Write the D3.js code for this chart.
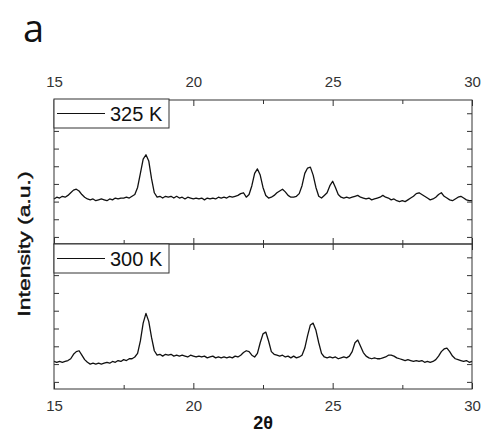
<!DOCTYPE html>
<html>
<head>
<meta charset="utf-8">
<script src="https://cdn.jsdelivr.net/npm/d3@7.9.0/dist/d3.min.js"></script>
<style>
  html, body { margin: 0; padding: 0; background: #fff; }
  svg { display: block; }
  .tick text { font-family: "Liberation Sans", Arial, sans-serif; font-size: 15px; fill: #333; }
  .tick line { stroke: #333; }
</style>
</head>
<body>
<svg id="chart" width="481" height="433"></svg>
<script>
// 2-theta sampling (degrees)
const twoTheta = [
  15.0,15.1,15.2,15.3,15.4,15.5,15.6,15.7,15.8,15.9,
  16.0,16.1,16.2,16.3,16.4,16.5,16.6,16.7,16.8,16.9,
  17.0,17.1,17.2,17.3,17.4,17.5,17.6,17.7,17.8,17.9,
  18.0,18.1,18.2,18.3,18.4,18.5,18.6,18.7,18.8,18.9,
  19.0,19.1,19.2,19.3,19.4,19.5,19.6,19.7,19.8,19.9,
  20.0,20.1,20.2,20.3,20.4,20.5,20.6,20.7,20.8,20.9,
  21.0,21.1,21.2,21.3,21.4,21.5,21.6,21.7,21.8,21.9,
  22.0,22.1,22.2,22.3,22.4,22.5,22.6,22.7,22.8,22.9,
  23.0,23.1,23.2,23.3,23.4,23.5,23.6,23.7,23.8,23.9,
  24.0,24.1,24.2,24.3,24.4,24.5,24.6,24.7,24.8,24.9,
  25.0,25.1,25.2,25.3,25.4,25.5,25.6,25.7,25.8,25.9,
  26.0,26.1,26.2,26.3,26.4,26.5,26.6,26.7,26.8,26.9,
  27.0,27.1,27.2,27.3,27.4,27.5,27.6,27.7,27.8,27.9,
  28.0,28.1,28.2,28.3,28.4,28.5,28.6,28.7,28.8,28.9,
  29.0,29.1,29.2,29.3,29.4,29.5,29.6,29.7,29.8,29.9,
  30.0
];

// intensity, 325 K (top panel, arbitrary units)
const int325 = [
  2.15,2.25,2.20,2.30,2.25,2.35,2.50,2.65,2.70,2.60,
  2.40,2.25,2.15,2.10,2.15,2.05,2.10,2.15,2.10,2.05,
  2.15,2.10,2.20,2.15,2.20,2.20,2.25,2.20,2.30,2.40,
  2.80,3.60,4.40,4.65,4.30,3.30,2.50,2.25,2.30,2.20,
  2.30,2.25,2.30,2.20,2.30,2.20,2.25,2.15,2.25,2.20,
  2.15,2.20,2.15,2.20,2.10,2.20,2.15,2.20,2.15,2.25,
  2.20,2.25,2.20,2.30,2.25,2.30,2.35,2.45,2.50,2.25,
  2.40,2.90,3.60,3.85,3.50,2.80,2.35,2.20,2.25,2.35,
  2.50,2.60,2.70,2.55,2.35,2.25,2.25,2.30,2.45,2.90,
  3.60,3.90,3.95,3.50,2.80,2.30,2.20,2.35,2.50,2.90,
  3.15,2.80,2.40,2.25,2.20,2.25,2.20,2.25,2.30,2.35,
  2.25,2.20,2.15,2.20,2.10,2.15,2.20,2.25,2.35,2.25,
  2.20,2.10,2.15,2.05,2.00,2.05,2.00,2.10,2.20,2.30,
  2.45,2.50,2.40,2.30,2.20,2.10,2.15,2.25,2.40,2.50,
  2.30,2.20,2.10,2.05,2.15,2.25,2.30,2.20,2.10,2.05,
  2.05
];

// intensity, 300 K (bottom panel, arbitrary units)
const int300 = [
  1.15,1.10,1.15,1.10,1.15,1.20,1.30,1.55,1.70,1.75,
  1.50,1.25,1.10,1.00,1.05,1.00,1.05,1.00,1.05,1.10,
  1.05,1.15,1.10,1.20,1.15,1.25,1.20,1.30,1.30,1.40,
  1.60,2.30,3.30,3.85,3.40,2.50,1.75,1.50,1.55,1.45,
  1.55,1.50,1.55,1.45,1.50,1.45,1.50,1.45,1.40,1.50,
  1.45,1.40,1.45,1.40,1.45,1.35,1.40,1.45,1.35,1.40,
  1.35,1.40,1.35,1.40,1.35,1.45,1.40,1.50,1.65,1.75,
  1.70,1.50,1.40,1.60,2.20,2.70,2.80,2.30,1.70,1.55,
  1.50,1.45,1.50,1.40,1.45,1.35,1.45,1.35,1.40,1.50,
  1.90,2.60,3.20,3.30,2.90,2.20,1.60,1.40,1.35,1.40,
  1.35,1.40,1.30,1.35,1.40,1.35,1.45,1.70,2.20,2.35,
  2.00,1.65,1.45,1.35,1.30,1.35,1.30,1.30,1.35,1.40,
  1.50,1.50,1.45,1.35,1.30,1.25,1.20,1.25,1.20,1.15,
  1.20,1.15,1.20,1.10,1.15,1.10,1.15,1.25,1.45,1.70,
  1.85,1.90,1.70,1.45,1.30,1.25,1.20,1.15,1.20,1.10,
  1.15
];

const xMajor = [15, 20, 25, 30];
const xMinor = [17.5, 22.5, 27.5];
const yTicks = [0, 1, 2, 3, 4, 5, 6, 7];

const panels = [
  { label: '325 K', values: int325, top: 100, bottom: 244 },
  { label: '300 K', values: int300, top: 244, bottom: 389 }
];

const left = 54, right = 472;
const svg = d3.select('#chart');

const x = d3.scaleLinear().domain([15, 30]).range([left, right]);

// panel letter
svg.append('text')
  .attr('x', 23).attr('y', 42)
  .attr('font-family', '"Open Sans", sans-serif')
  .attr('font-size', 38)
  .attr('fill', '#111')
  .text('a');

panels.forEach((p, i) => {
  const y = d3.scaleLinear().domain([-0.4, 7.75]).range([p.bottom, p.top]);
  const g = svg.append('g');

  // data line
  const line = d3.line()
    .x((d, k) => x(twoTheta[k]))
    .y(d => y(d));
  g.append('path')
    .datum(p.values)
    .attr('fill', 'none')
    .attr('stroke', '#111')
    .attr('stroke-width', 1.3)
    .attr('stroke-linejoin', 'round')
    .attr('d', line);

  // x ticks, top and bottom of each panel, inward
  g.append('g').attr('transform', `translate(0,${p.top})`)
    .call(d3.axisTop(x).tickValues(xMajor).tickSize(-6).tickPadding(13)
      .tickFormat(i === 0 ? d3.format('d') : ''));
  g.append('g').attr('transform', `translate(0,${p.top})`)
    .call(d3.axisTop(x).tickValues(xMinor).tickSize(-4).tickFormat(''));
  g.append('g').attr('transform', `translate(0,${p.bottom})`)
    .call(d3.axisBottom(x).tickValues(xMajor).tickSize(-6).tickPadding(11)
      .tickFormat(i === 1 ? d3.format('d') : ''));
  g.append('g').attr('transform', `translate(0,${p.bottom})`)
    .call(d3.axisBottom(x).tickValues(xMinor).tickSize(-4).tickFormat(''));

  // y ticks, inward, no labels
  g.append('g').attr('transform', `translate(${left},0)`)
    .call(d3.axisLeft(y).tickValues(yTicks).tickSize(-5).tickFormat(''));
  g.append('g').attr('transform', `translate(${right},0)`)
    .call(d3.axisRight(y).tickValues(yTicks).tickSize(-5).tickFormat(''));

  g.selectAll('.domain').remove();

  // frame
  g.append('rect')
    .attr('x', left).attr('y', p.top)
    .attr('width', right - left).attr('height', p.bottom - p.top)
    .attr('fill', 'none').attr('stroke', '#333').attr('stroke-width', 1);

  // legend
  const ly = p.top - (i === 0 ? 1 : 0);
  g.append('rect')
    .attr('x', left).attr('y', ly)
    .attr('width', 115).attr('height', 29)
    .attr('fill', '#fff').attr('stroke', '#333').attr('stroke-width', 1);
  g.append('line')
    .attr('x1', left + 3).attr('x2', left + 51)
    .attr('y1', ly + 14.5).attr('y2', ly + 14.5)
    .attr('stroke', '#111').attr('stroke-width', 1.2);
  g.append('text')
    .attr('x', left + 56).attr('y', ly + 22)
    .attr('font-family', '"Liberation Sans", Arial, sans-serif')
    .attr('font-size', 20)
    .attr('fill', '#111')
    .text(p.label);
});

// axis titles
svg.append('text')
  .attr('x', 263).attr('y', 429)
  .attr('text-anchor', 'middle')
  .attr('font-family', '"Liberation Sans", Arial, sans-serif')
  .attr('font-size', 18)
  .attr('font-weight', 'bold')
  .attr('fill', '#111')
  .text('2θ');

svg.append('text')
  .attr('transform', 'translate(30,244) rotate(-90)')
  .attr('text-anchor', 'middle')
  .attr('font-family', '"Liberation Sans", Arial, sans-serif')
  .attr('font-size', 16)
  .attr('textLength', 145)
  .attr('lengthAdjust', 'spacingAndGlyphs')
  .attr('fill', '#111')
  .attr('stroke', '#111')
  .attr('stroke-width', 0.4)
  .text('Intensity (a.u.)');
</script>
</body>
</html>
